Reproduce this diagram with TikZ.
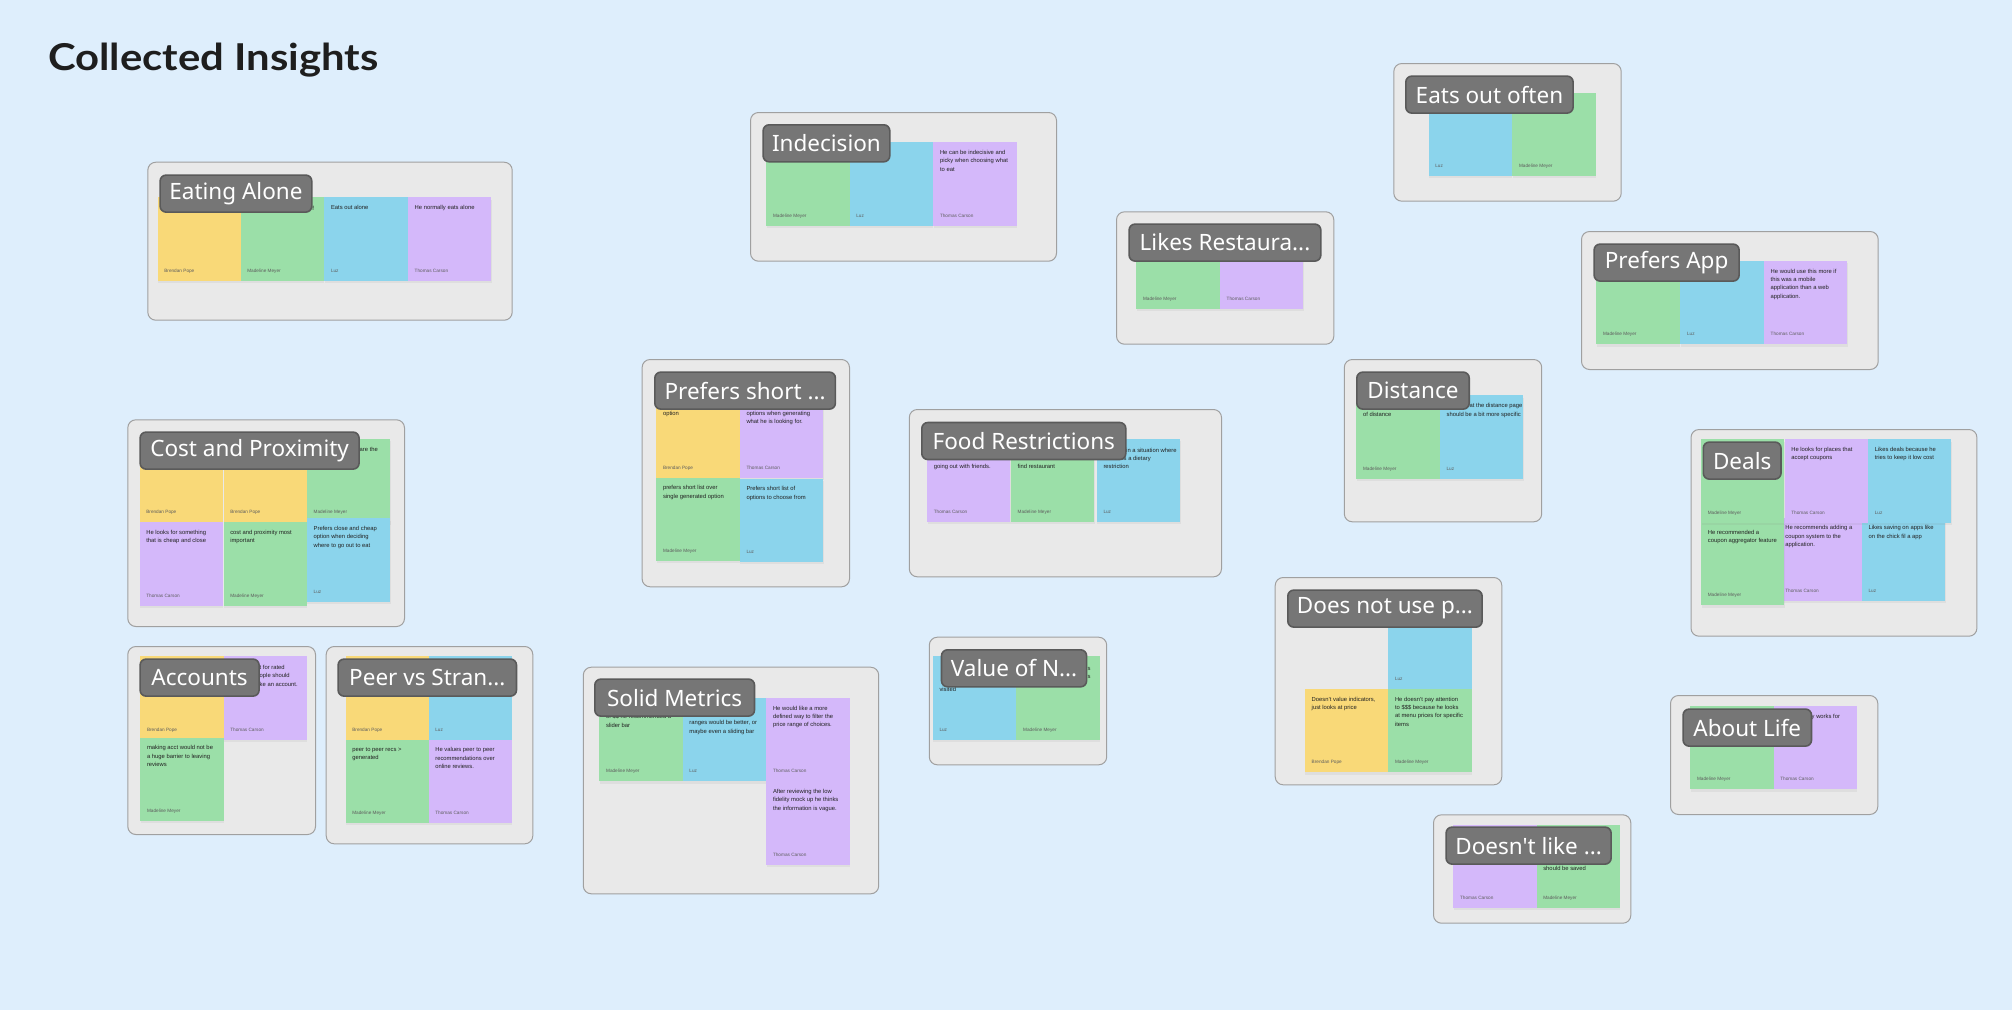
\documentclass[tikz,border=0pt]{standalone}
\usepackage{fontspec}
\setmainfont{Liberation Sans}
\newfontfamily\lblfont{Noto Sans}
\newfontfamily\titlefont{Lato}
\usetikzlibrary{shadows}
\definecolor{bgc}{HTML}{DEEEFC}
\definecolor{framefill}{HTML}{E9E9E9}
\definecolor{frameborder}{HTML}{A0A0A0}
\definecolor{yel}{HTML}{F9D978}
\definecolor{grn}{HTML}{9BDFA8}
\definecolor{blu}{HTML}{8BD4EC}
\definecolor{pur}{HTML}{D4B8FA}
\definecolor{lblfill}{HTML}{767676}
\definecolor{lbldraw}{HTML}{5A5A5A}
\definecolor{txtc}{HTML}{222222}
\definecolor{authc}{HTML}{5E5E5E}
\definecolor{titlec}{HTML}{1E1E1E}
\tikzset{
  frm/.style={anchor=north west, draw=frameborder, fill=framefill, line width=1pt, rounded corners=8pt, inner sep=0pt},
  stk/.style={anchor=north west, minimum width=83.3pt, minimum height=83.3pt, inner sep=0pt, draw=none,
    drop shadow={shadow xshift=0.5pt, shadow yshift=-2.5pt, opacity=0.10}},
  stxt/.style={anchor=north west, inner sep=0pt, align=left, text=txtc, font=\fontsize{5.85}{8.4}\selectfont},
  sauth/.style={anchor=base west, inner sep=0pt, text=authc, font=\fontsize{4.7}{5}\selectfont},
  sfrag/.style={anchor=base west, inner sep=0pt, text=txtc, font=\fontsize{5.85}{8.4}\selectfont},
  lbl/.style={anchor=north west, fill=lblfill, draw=lbldraw, line width=1.6pt, rounded corners=6pt,
    minimum height=37pt, inner sep=0pt, text=white, font=\lblfont\fontsize{22.5}{24}\selectfont},
  ttl/.style={anchor=base west, inner sep=0pt, text=titlec, font=\titlefont\bfseries\fontsize{37}{40}\selectfont}
}
\newcommand\grpframe[5]{\node[frm, minimum width=#4pt, minimum height=#5pt] (#1) at (#2,#3) {};}
\newcommand\sticky[6]{%
  \node[stk, fill=#4] (#1) at (#2,#3) {};
  \node[stxt] (#1-t) at ([shift={(6.8pt,-8pt)}]#1.north west) {#5};
  \node[sauth] (#1-a) at ([shift={(6.8pt,8.5pt)}]#1.south west) {#6};}
\newcommand\fragtxt[4]{\node[sfrag] (#1) at (#2,#3) {#4};}
\newcommand\grouplabel[5]{\node[lbl, minimum width=#4pt] (#1) at (#2,#3) {#5};}
\begin{document}
\begin{tikzpicture}[x=1pt,y=-1pt]
\useasboundingbox (0,0) rectangle (2012,1010);
\fill[bgc] (0,0) rectangle (2012,1010);
\node[ttl] (title) at (48,70.7) {\scalebox{1.13}[1]{Collected Insights}};

% Eating Alone
\grpframe{g1}{147.3}{161.7}{364.4}{158}
\sticky{e1}{157.3}{197}{yel}{}{Brendan Pope}
\sticky{e2}{240.3}{197}{grn}{}{Madeline Meyer}
\sticky{e3}{324}{197}{blu}{Eats out alone}{Luz}
\sticky{e4}{407.7}{197}{pur}{He normally eats alone}{Thomas Carson}
\fragtxt{e2f}{312.2}{210}{f}
\grouplabel{l1}{159.3}{174.3}{151.7}{Eating Alone}

% Indecision
\grpframe{g2}{750}{112}{306}{148.7}
\sticky{i1}{766}{142}{grn}{}{Madeline Meyer}
\sticky{i2}{849.3}{142}{blu}{}{Luz}
\sticky{i3}{933}{142}{pur}{He can be indecisive and\\picky when choosing what\\to eat}{Thomas Carson}
\grouplabel{l2}{762.3}{124}{126.7}{Indecision}

% Eats out often
\grpframe{g3}{1393.3}{63}{227.4}{137.7}
\sticky{o1}{1428.3}{92.3}{blu}{}{Luz}
\sticky{o2}{1512}{92.3}{grn}{}{Madeline Meyer}
\grouplabel{l3}{1405}{75.3}{167.3}{Eats out often}

% Likes Restaura...
\grpframe{g4}{1116}{211.3}{217.3}{132.4}
\sticky{r1}{1136}{225.3}{grn}{}{Madeline Meyer}
\sticky{r2}{1219.7}{225.3}{pur}{}{Thomas Carson}
\grouplabel{l4}{1128.3}{223.3}{191.7}{Likes Restaura...}

% Prefers App
\grpframe{g5}{1581}{231}{296.7}{138}
\sticky{a1}{1596}{260.7}{grn}{}{Madeline Meyer}
\sticky{a2}{1680}{260.7}{blu}{}{Luz}
\sticky{a3}{1763.7}{260.7}{pur}{He would use this more if\\this was a mobile\\application than a web\\application.}{Thomas Carson}
\grouplabel{l5}{1593.3}{243.3}{145}{Prefers App}

% Cost and Proximity
\grpframe{g6}{127.3}{419.3}{276.7}{206.7}
\sticky{c1}{139.3}{438.7}{yel}{}{Brendan Pope}
\sticky{c2}{223.3}{438.7}{yel}{}{Brendan Pope}
\sticky{c3}{306.7}{438.7}{grn}{}{Madeline Meyer}
\sticky{c4}{139.3}{522}{pur}{He looks for something\\that is cheap and close}{Thomas Carson}
\sticky{c5}{223.3}{522}{grn}{cost and proximity most\\important}{Madeline Meyer}
\sticky{c6}{306.7}{518}{blu}{Prefers close and cheap\\option when deciding\\where to go out to eat}{Luz}
\fragtxt{c3f}{359.5}{451.7}{are the}
\grouplabel{l6}{139.3}{431.3}{219}{Cost and Proximity}

% Prefers short ...
\grpframe{g7}{641.6}{359}{207.4}{227.3}
\sticky{p1}{656}{394}{yel}{}{Brendan Pope}
\sticky{p2}{739.5}{394}{pur}{}{Thomas Carson}
\sticky{p3}{656}{477.3}{grn}{prefers short list over\\single generated option}{Madeline Meyer}
\sticky{p4}{739.5}{478.3}{blu}{Prefers short list of\\options to choose from}{Luz}
\fragtxt{p1f}{662.8}{415}{option}
\fragtxt{p2f}{746.3}{415}{options when generating}
\fragtxt{p2g}{746.3}{423.4}{what he is looking for.}
\grouplabel{l7}{654}{371.3}{180.6}{Prefers short ...}

% Food Restrictions
\grpframe{g8}{908.8}{409}{312.2}{167.3}
\sticky{f1}{926.8}{438.3}{pur}{}{Thomas Carson}
\sticky{f2}{1010.7}{438.3}{grn}{}{Madeline Meyer}
\sticky{f3}{1096.5}{438.3}{blu}{}{Luz}
\fragtxt{f1f}{933.6}{468.3}{going out with friends.}
\fragtxt{f2f}{1017.5}{468.3}{find restaurant}
\fragtxt{f3f}{1126}{452}{in a situation where}
\fragtxt{f3g}{1117}{460.4}{has a dietary}
\fragtxt{f3h}{1103.3}{468.8}{restriction}
\grouplabel{l8}{921}{421.7}{204}{Food Restrictions}

% Distance
\grpframe{g9}{1343.8}{359}{197.4}{162.3}
\sticky{d1}{1356}{395}{grn}{}{Madeline Meyer}
\sticky{d2}{1439.6}{395}{blu}{}{Luz}
\fragtxt{d1f}{1362.8}{416}{of distance}
\fragtxt{d2f}{1469.5}{407.6}{at the distance page}
\fragtxt{d2g}{1446.4}{416}{should be a bit more specific}
\grouplabel{l9}{1356}{371.3}{112.4}{Distance}

% Deals
\grpframe{g10}{1690.5}{429}{285.9}{206.7}
\sticky{k5}{1778.3}{517.4}{pur}{He recommends adding a\\coupon system to the\\application.}{Thomas Carson}
\sticky{k6}{1861.6}{517.4}{blu}{Likes saving on apps like\\on the chick fil a app}{Luz}
\sticky{k4}{1700.8}{521.7}{grn}{He recommended a\\coupon aggregator feature}{Madeline Meyer}
\sticky{k1}{1700.8}{439}{grn}{}{Madeline Meyer}
\sticky{k2}{1784.3}{439}{pur}{He looks for places that\\accept coupons}{Thomas Carson}
\sticky{k3}{1867.8}{439}{blu}{Likes deals because he\\tries to keep it low cost}{Luz}
\grouplabel{l10}{1702.5}{441.3}{77.7}{Deals}

% Accounts
\grpframe{g11}{127.3}{646}{187.7}{188}
\sticky{m1}{140}{656}{yel}{}{Brendan Pope}
\sticky{m2}{223.3}{656}{pur}{}{Thomas Carson}
\sticky{m3}{140}{737.3}{grn}{making acct would not be\\a huge barrier to leaving\\reviews}{Madeline Meyer}
\fragtxt{m2f}{259.5}{669.3}{t for rated}
\fragtxt{m2g}{259.5}{677.7}{ople should}
\fragtxt{m2h}{259.5}{686.1}{ke an account.}
\grouplabel{l11}{139.3}{658.3}{119}{Accounts}

% Peer vs Stran...
\grpframe{g12}{325.7}{646}{206.6}{197.3}
\sticky{q1}{345.3}{656}{yel}{}{Brendan Pope}
\sticky{q2}{428.3}{656}{blu}{}{Luz}
\sticky{q3}{345.3}{739.3}{grn}{peer to peer recs >\\generated}{Madeline Meyer}
\sticky{q4}{428.3}{739.3}{pur}{He values peer to peer\\recommendations over\\online reviews.}{Thomas Carson}
\grouplabel{l12}{337.3}{658.3}{178.4}{Peer vs Stran...}

% Solid Metrics
\grpframe{g13}{582.8}{666.7}{295.4}{226.6}
\sticky{s1}{599.1}{697.7}{grn}{}{Madeline Meyer}
\sticky{s2}{682.4}{697.7}{blu}{}{Luz}
\sticky{s3}{766}{697.7}{pur}{He would like a more\\defined way to filter the\\price range of choices.}{Thomas Carson}
\sticky{s4}{766}{781}{pur}{After reviewing the low\\fidelity mock up he thinks\\the information is vague.}{Thomas Carson}
\fragtxt{s1f}{605.9}{718.7}{of \$\$ he recommended a}
\fragtxt{s1g}{605.9}{727.1}{slider bar}
\fragtxt{s2f}{689.2}{724.7}{ranges would be better, or}
\fragtxt{s2g}{689.2}{733.1}{maybe even a sliding bar}
\grouplabel{l13}{594}{678.3}{159.7}{Solid Metrics}

% Value of N...
\grpframe{g14}{928.8}{636.7}{177.4}{127.6}
\sticky{v1}{932.5}{656}{blu}{}{Luz}
\sticky{v2}{1016.2}{656}{grn}{}{Madeline Meyer}
\fragtxt{v1f}{939.3}{691.3}{visited}
\fragtxt{v2f}{1087.5}{670}{s}
\fragtxt{v2g}{1087.5}{678.4}{s}
\grouplabel{l14}{940.7}{649}{145.1}{Value of N...}

% Does not use p...
\grpframe{g15}{1274.7}{577}{226.6}{207.3}
\sticky{n1}{1388}{605.3}{blu}{}{Luz}
\sticky{n2}{1304.7}{688.7}{yel}{Doesn't value indicators,\\just looks at price}{Brendan Pope}
\sticky{n3}{1388}{688.7}{grn}{He doesn't pay attention\\to \$\$\$ because he looks\\at menu prices for specific\\items}{Madeline Meyer}
\grouplabel{l15}{1287}{589.3}{194.3}{Does not use p...}

% Doesn't like ...
\grpframe{g16}{1433}{814.3}{197.3}{108.4}
\sticky{w1}{1453}{824.3}{pur}{}{Thomas Carson}
\sticky{w2}{1536.3}{824.3}{grn}{}{Madeline Meyer}
\fragtxt{w2f}{1543.1}{870.7}{should be saved}
\grouplabel{l16}{1445.3}{826.3}{165}{Doesn't like ...}

% About Life
\grpframe{g17}{1670}{695}{207.3}{119}
\sticky{b1}{1690}{705.7}{grn}{}{Madeline Meyer}
\sticky{b2}{1773.3}{705.7}{pur}{}{Thomas Carson}
\fragtxt{b2f}{1811.5}{718.7}{y works for}
\grouplabel{l17}{1682.3}{708.3}{128.4}{About Life}
\end{tikzpicture}
\end{document}
